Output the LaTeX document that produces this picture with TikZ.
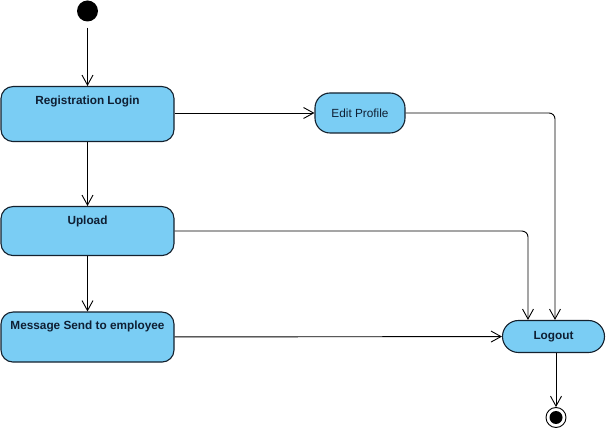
\documentclass[tikz,border=0pt]{standalone}
\usepackage{fontspec}
\setmainfont{Liberation Sans}
\usepackage{xcolor}
\usetikzlibrary{arrows.meta}
\definecolor{BoxBlue}{HTML}{7ACDF4}
\definecolor{EdgeDark}{HTML}{14212E}
\definecolor{TextDark}{HTML}{0F1F33}

\begin{document}
\begin{tikzpicture}[
            x=1pt, y=-1pt,
            act/.style={draw=EdgeDark, line width=1.1pt, rounded corners=12pt, fill=BoxBlue, text=TextDark, font=\fontsize{11.8}{14}\selectfont\bfseries, minimum width=173pt, inner ysep=4pt, text height=13.5pt, anchor=north},
            pill/.style={draw=EdgeDark, line width=1.1pt, rounded corners=15pt, fill=BoxBlue, text=TextDark, font=\fontsize{11.8}{14}\selectfont, inner sep=0pt},
            flow/.style={-{Straight Barb[length=10pt, width=11pt]}, line width=0.9pt, rounded corners=6pt}
        ]
            \useasboundingbox (0,0) rectangle (606,430);

            \node[circle, fill=black, minimum size=21pt, inner sep=0pt] (start) at (87.5,11) {};

            \node[act, text depth=33.5pt] (reg) at (87.5,86) {Registration Login};
            \node[act, text depth=27.5pt] (upload) at (87.5,206) {Upload};
            \node[act, text depth=28.5pt] (msg) at (87.5,311.5) {Message Send to employee};

            \node[pill, minimum width=90pt, minimum height=40pt] (edit) at (360,113) {Edit Profile};
            \node[pill, font=\fontsize{11.8}{14}\selectfont\bfseries, minimum width=102pt, minimum height=32pt, rounded corners=16pt] (logout) at (553.5,336.5) {Logout};

            \node[circle, draw=black, line width=0.9pt, fill=white, minimum size=20pt, inner sep=0pt,
                  path picture={\fill[black] (path picture bounding box.center) circle (6.5pt);}] (final) at (556,417.5) {};

            \draw[flow, shorten <=6pt] (start) -- (reg);
            \draw[flow] (reg) -- (upload);
            \draw[flow] (upload) -- (msg);
            \draw[flow] (edit.west -| reg.east) -- (edit.west);
            \draw[flow] (edit) -| ([xshift=1.5pt]logout.north);
            \draw[flow] (upload) -| ([xshift=-25.5pt]logout.north);
            \draw[flow] (msg) -- (logout);
            \draw[flow] (logout.south -| final) -- (final);

        \end{tikzpicture}
\end{document}
